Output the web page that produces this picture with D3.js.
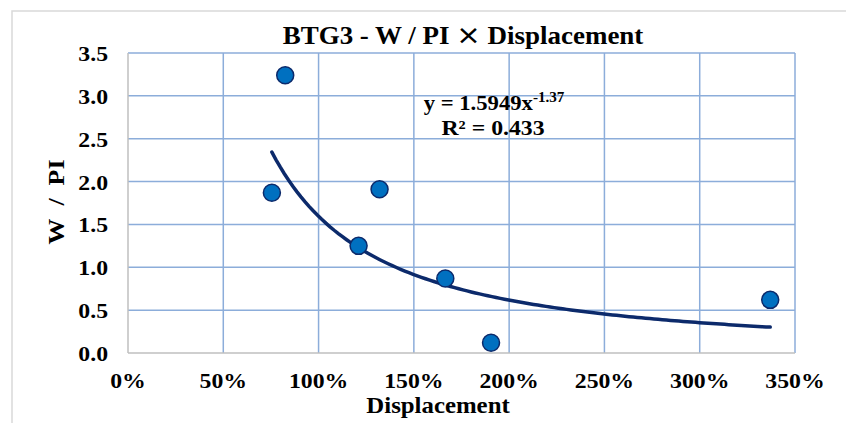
<!DOCTYPE html>
<html>
<head>
<meta charset="utf-8">
<script src="https://cdn.jsdelivr.net/npm/d3@7"></script>
<style>
  html, body { margin: 0; padding: 0; background: #fff; }
  svg { display: block; }
  text { font-family: "Liberation Serif", "Times New Roman", serif; font-weight: bold; fill: #000; }
</style>
</head>
<body>
<div id="vis"></div>
<script>
(function () {
  'use strict';

  // data
  var DISPLACEMENT = [0.755, 0.825, 1.21, 1.32, 1.665, 1.905, 3.37];
  var W_PI = [1.87, 3.24, 1.25, 1.91, 0.87, 0.12, 0.62];
  var X_TICKS = [0, 0.5, 1, 1.5, 2, 2.5, 3, 3.5];
  var Y_TICKS = [0, 0.5, 1, 1.5, 2, 2.5, 3, 3.5];
  var FIT_A = 1.5949;
  var FIT_B = -1.37;
  var FIT_R2 = 0.433;

  var WIDTH = 846;
  var HEIGHT = 423;
  var PLOT = { left: 128, top: 53, right: 795, bottom: 353 };
  // the source picture is a little wider than tall, text is stretched too
  var SX = 1.08;
  var GRID = '#8cadda';

  var svg = d3.select('#vis').append('svg')
    .attr('width', WIDTH)
    .attr('height', HEIGHT);

  // outer chart frame, cut off at right and bottom
  svg.append('rect')
    .attr('x', 12).attr('y', 11)
    .attr('width', WIDTH).attr('height', HEIGHT)
    .attr('fill', '#fff')
    .attr('stroke', '#d9d9d9')
    .attr('stroke-width', 1.5);

  var x = d3.scaleLinear().domain([0, 3.5]).range([PLOT.left, PLOT.right]);
  var y = d3.scaleLinear().domain([0, 3.5]).range([PLOT.bottom, PLOT.top]);

  var label = function (px, py, size, anchor, txt, rot) {
    var t = 'translate(' + px + ',' + py + ')' + (rot ? ' rotate(' + rot + ')' : '') +
      ' scale(' + SX + ',1)';
    return svg.append('text')
      .attr('transform', t)
      .attr('text-anchor', anchor)
      .attr('font-size', size)
      .text(txt);
  };

  // gridlines
  var grid = svg.append('g');
  grid.selectAll('line.v').data(X_TICKS.slice(1)).enter().append('line')
    .attr('x1', function (d) { return x(d); })
    .attr('x2', function (d) { return x(d); })
    .attr('y1', y(0)).attr('y2', y(3.5))
    .attr('stroke', GRID).attr('stroke-width', 1.5);
  grid.selectAll('line.h').data(Y_TICKS.slice(1)).enter().append('line')
    .attr('y1', function (d) { return y(d); })
    .attr('y2', function (d) { return y(d); })
    .attr('x1', x(0)).attr('x2', x(3.5))
    .attr('stroke', GRID).attr('stroke-width', 1.5);

  // axis lines
  svg.append('line')
    .attr('x1', x(0)).attr('x2', x(3.5)).attr('y1', y(0)).attr('y2', y(0))
    .attr('stroke', '#bfbfbf').attr('stroke-width', 1.5);
  svg.append('line')
    .attr('x1', x(0)).attr('x2', x(0)).attr('y1', y(0)).attr('y2', y(3.5))
    .attr('stroke', '#bfbfbf').attr('stroke-width', 1.5);

  // tick labels
  var xFmt = d3.format('.0%');
  var yFmt = d3.format('.1f');
  X_TICKS.forEach(function (d) {
    label(x(d), 388, 22, 'middle', xFmt(d));
  });
  Y_TICKS.forEach(function (d) {
    label(108, y(d) + 8, 22, 'end', yFmt(d));
  });

  // trendline y = a * x^b over the data range
  var lo = d3.min(DISPLACEMENT), hi = d3.max(DISPLACEMENT);
  var fitX = d3.range(0, 121).map(function (i) { return lo + (hi - lo) * i / 120; });
  var line = d3.line()
    .x(function (d) { return x(d); })
    .y(function (d) { return y(FIT_A * Math.pow(d, FIT_B)); });
  svg.append('path')
    .datum(fitX)
    .attr('d', line)
    .attr('fill', 'none')
    .attr('stroke', '#0c2a6b')
    .attr('stroke-width', 3.5)
    .attr('stroke-linecap', 'round');

  // points
  svg.selectAll('circle.pt').data(DISPLACEMENT).enter().append('circle')
    .attr('class', 'pt')
    .attr('cx', function (d) { return x(d); })
    .attr('cy', function (d, i) { return y(W_PI[i]); })
    .attr('r', 8.5)
    .attr('fill', '#0070c0')
    .attr('stroke', '#0c2a6b')
    .attr('stroke-width', 1.5);

  // equation label
  var eq = label(494, 110, 21, 'middle', null);
  eq.append('tspan').text('y = ' + FIT_A + 'x');
  eq.append('tspan').attr('dy', -8).attr('font-size', 14).text(String(FIT_B));
  label(493, 135, 22, 'middle', 'R² = ' + FIT_R2);

  // titles
  var title = label(463, 44, 25, 'middle', null);
  title.append('tspan').text('BTG3 - W / PI ');
  title.append('tspan')
    .style('font-family', '"DejaVu Sans", sans-serif')
    .style('font-weight', 'normal')
    .attr('font-size', 27)
    .text('\u00d7');
  title.append('tspan').text(' Displacement');
  label(438, 413, 23, 'middle', 'Displacement');
  label(64, 202, 24, 'middle', 'W\u00a0\u00a0/\u00a0\u00a0PI', -90);
})();
</script>
</body>
</html>
